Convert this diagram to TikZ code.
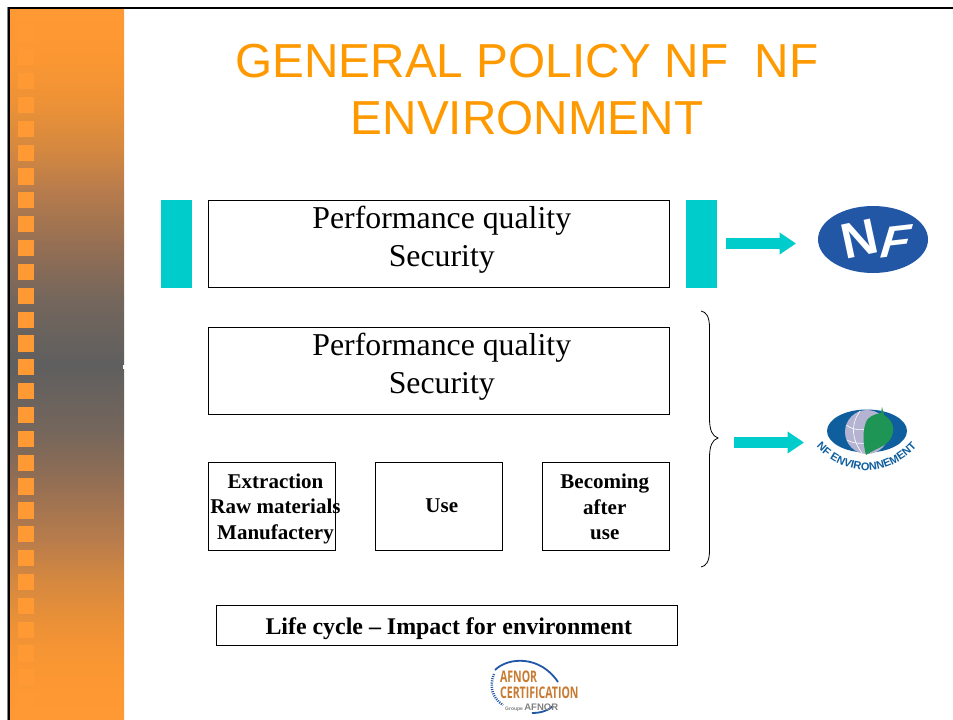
\documentclass[tikz,border=0pt]{standalone}
\usepackage{fontspec}
\setmainfont{Liberation Serif}
\newfontfamily\sansf{Liberation Sans}
\newfontfamily\narrowf{Open Sans}
\usetikzlibrary{arrows.meta,decorations.text}
\definecolor{orangeC}{HTML}{FF9933}
\definecolor{titleC}{HTML}{FF9900}
\definecolor{tealC}{HTML}{00CCCC}
\definecolor{nfblue}{HTML}{2257A6}
\definecolor{envblue}{HTML}{0F5F9F}
\definecolor{leafgreen}{HTML}{1E9455}
\definecolor{globeC}{HTML}{B4B4D2}
\definecolor{afnorC}{HTML}{C87A30}
\definecolor{sa}{HTML}{FB9733}
\definecolor{sb}{HTML}{EE9236}
\definecolor{sc}{HTML}{D48840}
\definecolor{sd}{HTML}{B87C4C}
\definecolor{se}{HTML}{926E54}
\definecolor{sf}{HTML}{74665C}
\definecolor{sg}{HTML}{5F5F5F}
\pgfdeclareverticalshading{panelshade}{100bp}{%
 color(0bp)=(orangeC); color(25bp)=(orangeC); color(28.6bp)=(sa);
 color(31.4bp)=(sb); color(34.9bp)=(sc); color(37.7bp)=(sd);
 color(41.9bp)=(se); color(45.5bp)=(sf); color(50bp)=(sg);
 color(54.5bp)=(sf); color(58.1bp)=(se); color(62.3bp)=(sd);
 color(65.1bp)=(sc); color(68.6bp)=(sb); color(71.4bp)=(sa);
 color(75bp)=(orangeC); color(100bp)=(orangeC)}
\tikzset{
 frameline/.style={draw=black,line width=2pt},
 box/.style={draw=black,line width=0.8pt,fill=white,inner sep=0pt,minimum width=461.5pt,minimum height=87.5pt},
 smallbox/.style={box,minimum width=127.5pt,minimum height=88pt},
 lifebox/.style={box,minimum height=40.5pt},
 bar/.style={fill=tealC,inner sep=0pt,minimum width=31pt,minimum height=88pt},
 bigtext/.style={inner sep=0pt,align=center,font=\fontsize{31.8}{38}\selectfont},
 boldtext/.style={inner sep=0pt,align=center,font=\bfseries\fontsize{21}{25.5}\selectfont},
 lifetext/.style={inner sep=0pt,font=\bfseries\fontsize{23.9}{27}\selectfont},
 bigarrow/.style={draw=tealC,line width=11pt,-{Triangle[length=16.5pt,width=21pt]}},
 bracestyle/.style={draw=black,line width=0.8pt},
 squarecell/.style={fill=orangeC,draw=none},
 afnortext/.style={inner sep=0pt,anchor=base west,text=afnorC,xscale=0.66,font=\narrowf\bfseries\fontsize{16}{16}\selectfont},
}
\begin{document}
\begin{tikzpicture}[x=1pt,y=-1pt]
\useasboundingbox (0,0) rectangle (953,720);
\fill[white] (0,0) rectangle (953,720);
% panel
\shade[shading=panelshade] (10,9) rectangle (124,720);
\foreach \k in {0,...,28}{
  \fill[squarecell] (18,25.3+23.85*\k) rectangle (34,41.5+23.85*\k);
}
\fill[white] (123,365) rectangle (124.5,369);
\draw[gray,line width=1pt] (7.5,7) -- (7.5,720);
\draw[frameline] (9,8) -- (953,8);
\draw[frameline] (9,7) -- (9,720);
% title
\node[inner sep=0pt,align=center,font=\sansf\fontsize{47.7}{57}\selectfont,text=titleC] (title) at (527,90) {GENERAL POLICY NF\ \ NF\\ENVIRONMENT};
% boxes
\node[box] (top) at (438.8,243.8) {};
\node[bigtext] (toptext) at ([yshift=4pt]top.center) {\hspace{6pt}Performance quality\\\hspace{6pt}Security};
\node[bar] (barL) at (176.5,244) {};
\node[bar] (barR) at (701.5,243.5) {};
\node[box] (mid) at (438.8,370.8) {};
\node[bigtext] (midtext) at ([yshift=4pt]mid.center) {\hspace{6pt}Performance quality\\\hspace{6pt}Security};
\node[smallbox] (extr) at (271.8,506.3) {};
\node[smallbox] (use) at (438.8,506.3) {};
\node[smallbox] (becoming) at (605.8,506.3) {};
\node[boldtext] (extrtext) at ([xshift=3.7pt,yshift=-2.5pt]extr.center) {Extraction\\Raw materials\\Manufactery};
\node[boldtext] (usetext) at ([xshift=3pt,yshift=1pt]use.center) {Use};
\node[boldtext] (becomingtext) at ([xshift=-1pt,yshift=-0.8pt]becoming.center) {Becoming\\after\\use};
\node[lifebox] (life) at (446.8,625.3) {};
\node[lifetext] (lifetxt) at ([xshift=2pt,yshift=-3pt]life.center) {Life cycle – Impact for environment};
% brace
\coordinate (bt) at (701,311);
\coordinate (bm) at (718,438);
\coordinate (bb) at (701,567);
\draw[bracestyle] (bt) .. controls (706,312) and (709.5,316) .. (709.5,328) -- (709.5,418)
  .. controls (709.5,430) and (712,436) .. (bm)
  .. controls (712,440) and (709.5,446) .. (709.5,458) -- (709.5,550)
  .. controls (709.5,562) and (706,566) .. (bb);
% arrows
\coordinate (a1s) at (726,243.5);
\coordinate (a1e) at (796,243.5);
\coordinate (a2s) at (734,442.5);
\coordinate (a2e) at (804,442.5);
\draw[bigarrow] (a1s) -- (a1e);
\draw[bigarrow] (a2s) -- (a2e);
% NF logo
\fill[nfblue] (873,239.5) ellipse [x radius=55,y radius=33.5];
\node[inner sep=0pt,text=white,rotate=12,font=\sansf\bfseries\fontsize{50}{50}\selectfont] (nfN) at (860,238.5) {N};
\node[inner sep=0pt,text=white,xslant=0.3,yslant=0.12,font=\sansf\bfseries\fontsize{45}{45}\selectfont] (nfF) at (896,241) {F};
% NF Environnement logo
\fill[envblue] (867,431) ellipse [x radius=40,y radius=21.5];
\fill[globeC] (867,432) circle [radius=22];
\draw[white,line width=0.6pt] (846,425) .. controls (855,432) and (870,432) .. (880,420);
\draw[white,line width=0.6pt] (847,440) .. controls (855,445) and (870,444) .. (880,440);
\draw[white,line width=0.6pt] (860,411) .. controls (850,425) and (852,440) .. (862,453);
\fill[leafgreen] (882,407) -- (884,415) .. controls (892,420) and (896,428) .. (891,438)
  .. controls (886,447) and (876,448) .. (866,455)
  .. controls (862,440) and (863,428) .. (867,420)
  .. controls (872,414) and (878,414) .. (881,413) -- cycle;
\path[decorate,decoration={text along path,text align=center,
   text={|\sansf\bfseries\fontsize{11}{11}\selectfont\color{envblue}|NF ENVIRONNEMENT}}]
   (810,439) .. controls (827,462) and (850,470.5) .. (867,470.5) .. controls (885,470.5) and (907,461) .. (923,439);
% AFNOR logo
\draw[nfblue,line width=1.8pt] (495,670) .. controls (508,657) and (540,655) .. (558,682);
\draw[nfblue,line width=2.5pt,dash pattern=on 1pt off 1.2pt] (494,674) .. controls (489,686) and (492,698) .. (503,705);
\draw[nfblue,line width=1.8pt] (532,713) .. controls (540,713) and (548,711) .. (553,706);
\node[afnortext] (afnor1) at (500,682) {AFNOR};
\node[afnortext] (afnor2) at (500,698) {CERTIFICATION};
\node[inner sep=0pt,anchor=base west,text=gray,font=\sansf\bfseries\fontsize{7}{7}\selectfont] (afnor3) at (505,710) {\fontsize{5}{5}\selectfont Groupe \fontsize{9.5}{9}\selectfont AFNOR};
\end{tikzpicture}
\end{document}
